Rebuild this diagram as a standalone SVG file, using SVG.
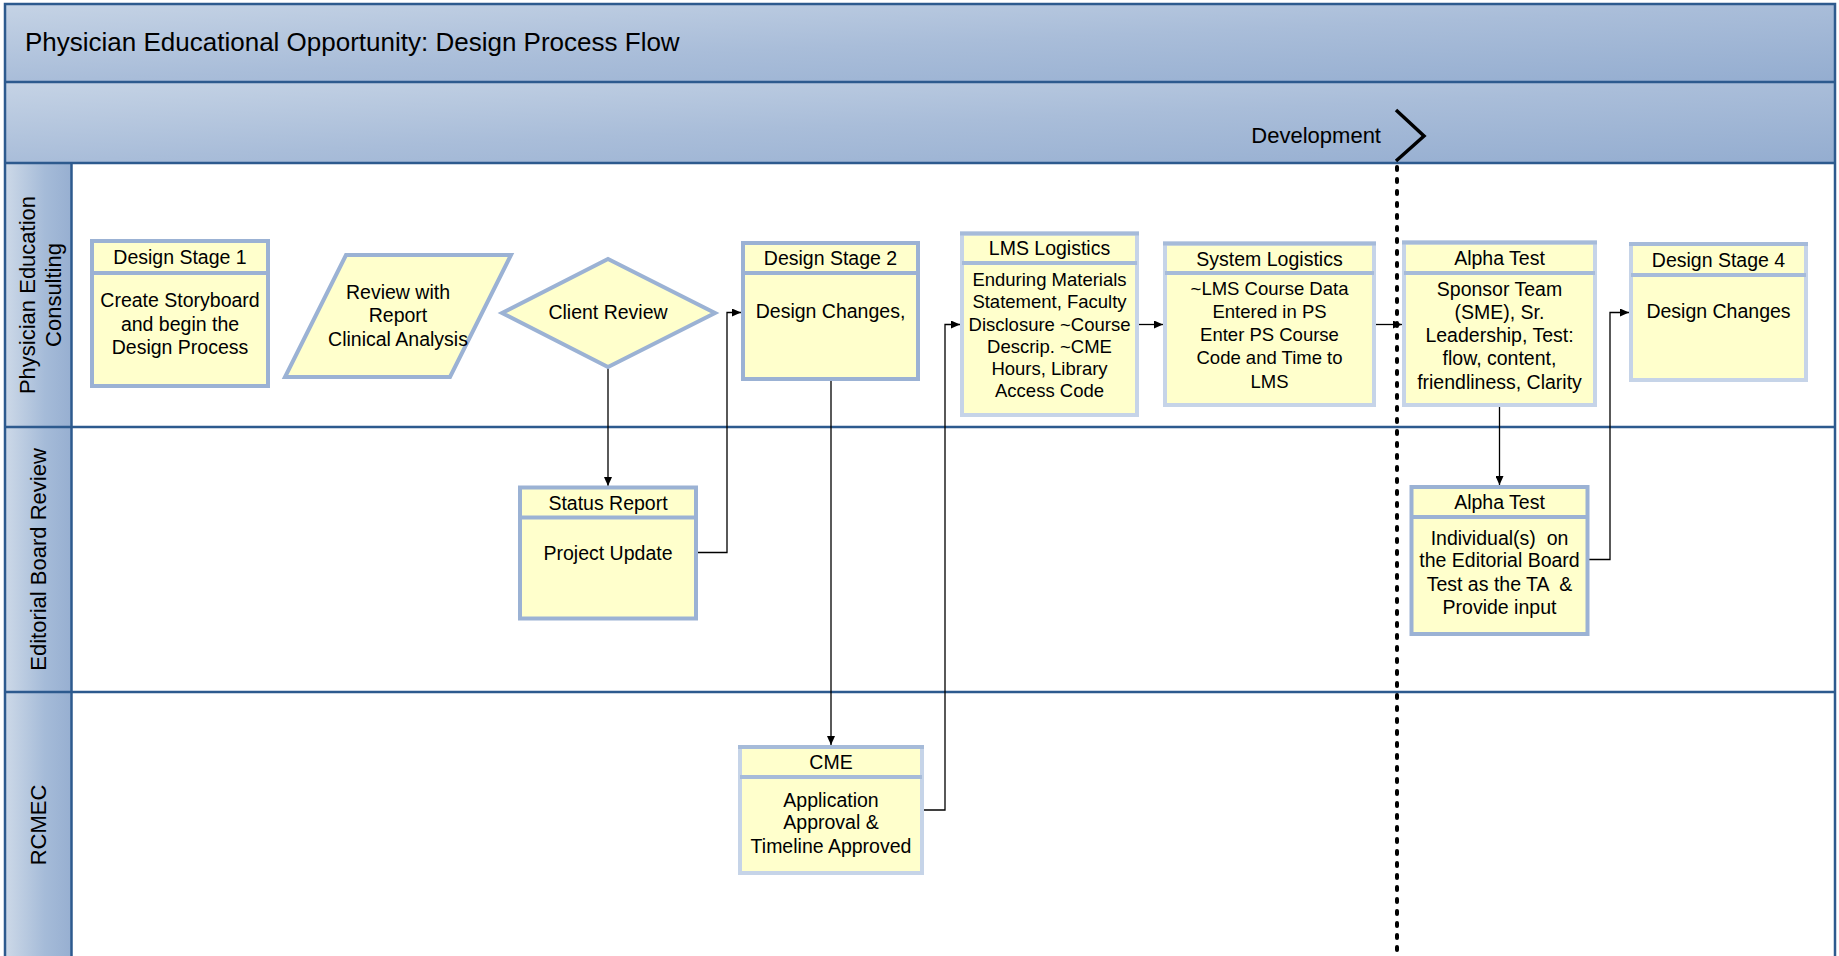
<svg xmlns="http://www.w3.org/2000/svg" width="1839" height="956" viewBox="0 0 1839 956">
<defs>
<linearGradient id="bandGrad" x1="0" y1="0" x2="1" y2="1">
<stop offset="0" stop-color="#c5d3e5"/>
<stop offset="0.5" stop-color="#a9bdd9"/>
<stop offset="1" stop-color="#94add0"/>
</linearGradient>
<linearGradient id="laneGrad" x1="0" y1="0" x2="1" y2="0">
<stop offset="0" stop-color="#cdd9e8"/>
<stop offset="0.6" stop-color="#a5bbd8"/>
<stop offset="1" stop-color="#97afd1"/>
</linearGradient>
<marker id="arrow" markerUnits="userSpaceOnUse" markerWidth="9" markerHeight="8" viewBox="0 0 9 8" refX="9" refY="4" orient="auto">
<path d="M0,0 L9,4 L0,8 z" fill="#000"/>
</marker>
<style>
text{font-family:"Liberation Sans",Arial,Helvetica,sans-serif;fill:#000;}
.t{font-size:19.5px;text-anchor:middle;dominant-baseline:central;white-space:pre;}
.ts{font-size:18.5px;text-anchor:middle;dominant-baseline:central;white-space:pre;}
.lane{font-size:22px;text-anchor:middle;dominant-baseline:central;}
.box{fill:#ffffcc;stroke:#9bb2d4;stroke-width:4;}
.boxl{fill:#ffffcc;stroke:#c6d4e8;stroke-width:4;}
.div{stroke:#9bb2d4;stroke-width:4;}
.divl{stroke:#a6bbd9;stroke-width:4;}
.grid{stroke:#2d5a8e;stroke-width:2.5;fill:none;}
.conn{stroke:#000;stroke-width:1.3;fill:none;}
</style>
</defs>

<rect x="0" y="0" width="1839" height="956" fill="#fff"/>

<g id="pool">
<rect x="5" y="4" width="1830" height="78" fill="url(#bandGrad)"/>
<rect x="5" y="82" width="1830" height="81" fill="url(#bandGrad)"/>
<rect x="5" y="163" width="66.5" height="264" fill="url(#laneGrad)"/>
<rect x="5" y="427" width="66.5" height="265" fill="url(#laneGrad)"/>
<rect x="5" y="692" width="66.5" height="270" fill="url(#laneGrad)"/>
<rect x="5" y="4" width="1830" height="960" class="grid"/>
<line x1="5" y1="82" x2="1835" y2="82" class="grid"/>
<line x1="5" y1="163" x2="1835" y2="163" class="grid"/>
<line x1="5" y1="427" x2="1835" y2="427" class="grid"/>
<line x1="5" y1="692" x2="1835" y2="692" class="grid"/>
<line x1="71.5" y1="163" x2="71.5" y2="960" class="grid"/>
<text x="25" y="42" style="font-size:26px;dominant-baseline:central">Physician Educational Opportunity: Design Process Flow</text>
<text x="1381" y="135" style="font-size:22px;text-anchor:end;dominant-baseline:central">Development</text>
<text class="lane" transform="translate(27,295) rotate(-90)">Physician Education</text>
<text class="lane" transform="translate(53,295) rotate(-90)">Consulting</text>
<text class="lane" transform="translate(38.5,559.5) rotate(-90)">Editorial Board Review</text>
<text class="lane" transform="translate(38,825) rotate(-90)">RCMEC</text>
</g>

<g id="phase-development">
<polyline points="1396,110 1424,136 1396,161" fill="none" stroke="#000" stroke-width="3.5"/>
<line x1="1397" y1="167" x2="1397" y2="960" stroke="#000" stroke-width="4" stroke-linecap="round" stroke-dasharray="3 9"/>
</g>

<g id="connectors">
<line x1="608" y1="367" x2="608" y2="486" class="conn" marker-end="url(#arrow)"/>
<polyline points="696,552.5 727,552.5 727,312.5 741,312.5" class="conn" marker-end="url(#arrow)"/>
<line x1="831" y1="379" x2="831" y2="745" class="conn" marker-end="url(#arrow)"/>
<polyline points="922,810 945,810 945,324.5 960,324.5" class="conn" marker-end="url(#arrow)"/>
<line x1="1137" y1="324.5" x2="1163" y2="324.5" class="conn" marker-end="url(#arrow)"/>
<line x1="1374" y1="324.5" x2="1402" y2="324.5" class="conn" marker-end="url(#arrow)"/>
<line x1="1499.5" y1="405" x2="1499.5" y2="485" class="conn" marker-end="url(#arrow)"/>
<polyline points="1587.5,559.5 1610,559.5 1610,312.5 1629,312.5" class="conn" marker-end="url(#arrow)"/>
</g>

<g id="design-stage-1">
<rect x="92" y="241" width="176" height="145" class="box"/>
<line x1="92" y1="273" x2="268" y2="273" class="div"/>
<text class="t" x="180" y="257">Design Stage 1</text>
<text class="t" x="180" y="300">Create Storyboard</text>
<text class="t" x="180" y="324">and begin the</text>
<text class="t" x="180" y="347">Design Process</text>
</g>

<g id="review-with-report">
<polygon points="346,255 511,255 450,377 285,377" class="box"/>
<text class="t" x="398" y="292">Review with</text>
<text class="t" x="398" y="315">Report</text>
<text class="t" x="398" y="338.5">Clinical Analysis</text>
</g>

<g id="client-review">
<polygon points="502,313 608,259 715,313 608,367" class="box"/>
<text class="t" x="608" y="312">Client Review</text>
</g>

<g id="design-stage-2">
<rect x="743" y="243" width="175" height="136" class="box"/>
<line x1="743" y1="273" x2="918" y2="273" class="div"/>
<text class="t" x="830.5" y="257.5">Design Stage 2</text>
<text class="t" x="830.5" y="311">Design Changes,</text>
</g>

<g id="lms-logistics">
<rect x="962" y="233.5" width="175" height="181.5" class="boxl"/>
<line x1="960" y1="233.5" x2="1139" y2="233.5" class="divl"/>
<line x1="962" y1="263" x2="1137" y2="263" class="divl"/>
<text class="t" x="1049.5" y="247.5">LMS Logistics</text>
<text class="ts" x="1049.5" y="279.5">Enduring Materials</text>
<text class="ts" x="1049.5" y="301.7">Statement, Faculty</text>
<text class="ts" x="1049.5" y="324">Disclosure ~Course</text>
<text class="ts" x="1049.5" y="346.3">Descrip. ~CME</text>
<text class="ts" x="1049.5" y="368.6">Hours, Library</text>
<text class="ts" x="1049.5" y="390.9">Access Code</text>
</g>

<g id="system-logistics">
<rect x="1165" y="243.5" width="209" height="161.5" class="boxl"/>
<line x1="1163" y1="243.5" x2="1376" y2="243.5" class="divl"/>
<line x1="1165" y1="273" x2="1374" y2="273" class="divl"/>
<text class="t" x="1269.5" y="259">System Logistics</text>
<text class="ts" x="1269.5" y="288.5">~LMS Course Data</text>
<text class="ts" x="1269.5" y="311.5">Entered in PS</text>
<text class="ts" x="1269.5" y="334.7">Enter PS Course</text>
<text class="ts" x="1269.5" y="357.9">Code and Time to</text>
<text class="ts" x="1269.5" y="381.1">LMS</text>
</g>

<g id="alpha-test-1">
<rect x="1404" y="242.5" width="191" height="162.5" class="boxl"/>
<line x1="1402" y1="242.5" x2="1597" y2="242.5" class="divl"/>
<line x1="1404" y1="273" x2="1595" y2="273" class="divl"/>
<text class="t" x="1499.5" y="257.5">Alpha Test</text>
<text class="t" x="1499.5" y="288.5">Sponsor Team</text>
<text class="t" x="1499.5" y="311.7">(SME), Sr.</text>
<text class="t" x="1499.5" y="335">Leadership, Test:</text>
<text class="t" x="1499.5" y="358.3">flow, content,</text>
<text class="t" x="1499.5" y="381.7">friendliness, Clarity</text>
</g>

<g id="design-stage-4">
<rect x="1631" y="244" width="175" height="136" class="boxl"/>
<line x1="1629" y1="244" x2="1808" y2="244" class="divl"/>
<line x1="1631" y1="275" x2="1806" y2="275" class="divl"/>
<text class="t" x="1718.5" y="259.5">Design Stage 4</text>
<text class="t" x="1718.5" y="311">Design Changes</text>
</g>

<g id="status-report">
<rect x="520" y="487.5" width="176" height="131" class="box"/>
<line x1="520" y1="517.5" x2="696" y2="517.5" class="div"/>
<text class="t" x="608" y="502.5">Status Report</text>
<text class="t" x="608" y="552.5">Project Update</text>
</g>

<g id="alpha-test-2">
<rect x="1411.5" y="487" width="176" height="147" class="box"/>
<line x1="1411.5" y1="517" x2="1587.5" y2="517" class="div"/>
<text class="t" x="1499.5" y="502">Alpha Test</text>
<text class="t" x="1499.5" y="537.5">Individual(s)  on</text>
<text class="t" x="1499.5" y="560">the Editorial Board</text>
<text class="t" x="1499.5" y="583.5">Test as the TA  &amp;</text>
<text class="t" x="1499.5" y="606.5">Provide input</text>
</g>

<g id="cme">
<rect x="740" y="747" width="182" height="126" class="boxl"/>
<line x1="738" y1="747" x2="924" y2="747" class="divl"/>
<line x1="740" y1="777" x2="922" y2="777" class="divl"/>
<text class="t" x="831" y="762">CME</text>
<text class="t" x="831" y="799.5">Application</text>
<text class="t" x="831" y="822">Approval &amp;</text>
<text class="t" x="831" y="845.5">Timeline Approved</text>
</g>
</svg>
